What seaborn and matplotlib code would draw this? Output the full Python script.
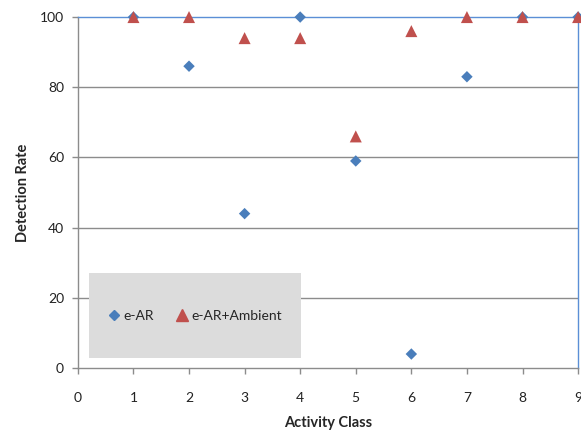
import matplotlib
matplotlib.use("Agg")
import matplotlib.pyplot as plt
import matplotlib.patches as mpatches
import seaborn as sns
import pandas as pd

# Detection rate per activity class
activity_class = [1, 2, 3, 4, 5, 6, 7, 8, 9]
e_ar = [100, 86, 44, 100, 59, 4, 83, 100, 100]
e_ar_ambient = [100, 100, 94, 94, 66, 96, 100, 100, 100]
series_names = ["e-AR", "e-AR+Ambient"]
x_ticks = list(range(0, 10))
y_ticks = [0, 20, 40, 60, 80, 100]

df_ear = pd.DataFrame({"Activity Class": activity_class, "Detection Rate": e_ar})
df_amb = pd.DataFrame({"Activity Class": activity_class, "Detection Rate": e_ar_ambient})

sns.set_style("white")
plt.rcParams["font.family"] = ["Lato", "DejaVu Sans"]

blue = "#4A7EBB"
red = "#C0504D"
grid_gray = "#8C8C8C"

fig = plt.figure(figsize=(5.81, 4.32), dpi=100)
ax = fig.add_axes([0.134, 0.148, 0.861, 0.8125])

sns.scatterplot(data=df_ear, x="Activity Class", y="Detection Rate", marker="D",
                color=blue, s=34, edgecolor="none", ax=ax, zorder=5, clip_on=False)
sns.scatterplot(data=df_amb, x="Activity Class", y="Detection Rate", marker="^",
                color=red, s=75, edgecolor="none", ax=ax, zorder=6, clip_on=False)

ax.set_xlim(0, 9)
ax.set_ylim(0, 100)
ax.set_xticks(x_ticks)
ax.set_yticks(y_ticks)

for y in y_ticks[1:-1]:
    ax.axhline(y, color=grid_gray, lw=1.0, zorder=1)

for side in ["left", "bottom"]:
    ax.spines[side].set_color(grid_gray)
    ax.spines[side].set_linewidth(1.0)
for side in ["top", "right"]:
    ax.spines[side].set_color("#5B8FD6")
    ax.spines[side].set_linewidth(1.0)

ax.tick_params(axis="x", direction="out", length=4, width=1, color=grid_gray,
               pad=13, labelsize=10, labelcolor="#222222", bottom=True)
ax.tick_params(axis="y", direction="out", length=4, width=1, color=grid_gray,
               pad=6, labelsize=10, labelcolor="#222222", left=True)

ax.set_xlabel("Activity Class", fontsize=10.5, fontweight="bold", labelpad=9)
ax.set_ylabel("Detection Rate", fontsize=10.5, fontweight="bold", labelpad=7)

# grey legend panel
panel = mpatches.Rectangle((0.022, 0.028), 0.424, 0.243, transform=ax.transAxes,
                           facecolor="#DCDCDC", edgecolor="none", zorder=3)
ax.add_patch(panel)
handles = [
    plt.Line2D([], [], marker="D", color=blue, linestyle="none", markersize=5),
    plt.Line2D([], [], marker="^", color=red, linestyle="none", markersize=8),
]
leg = ax.legend(handles, series_names, loc="center", bbox_to_anchor=(0.234, 0.148),
                ncol=2, frameon=False, fontsize=10, handlelength=0.8, handletextpad=0.3,
                columnspacing=1.6)
leg.set_zorder(4)

fig.savefig("out.png", dpi=100)
